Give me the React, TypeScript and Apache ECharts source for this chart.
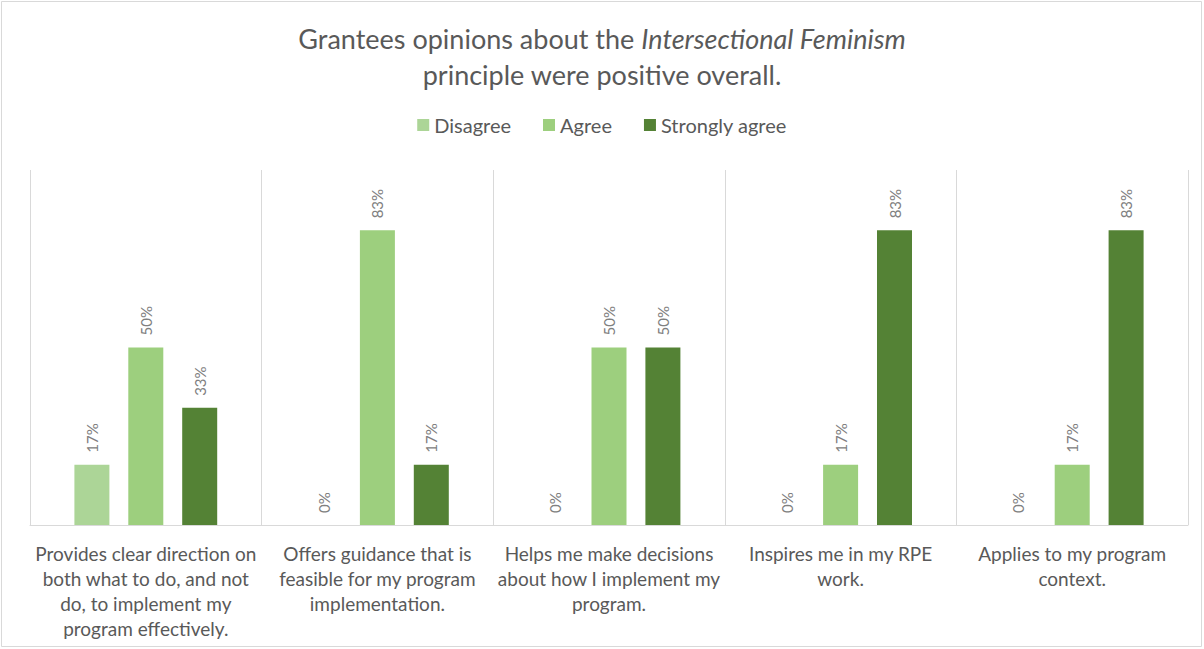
import React, { useEffect, useRef } from "react";
import * as echarts from "echarts";

const categories = [
  "Provides clear direction on\nboth what to do, and not\ndo, to implement my\nprogram effectively.",
  "Offers guidance that is\nfeasible for my program\nimplementation.",
  "Helps me make decisions\nabout how I implement my\nprogram.",
  "Inspires me in my RPE\nwork.",
  "Applies to my program\ncontext.",
];
const seriesNames = ["Disagree", "Agree", "Strongly agree"];
const disagree = [17, 0, 0, 0, 0];
const agree = [50, 83, 50, 17, 17];
const stronglyAgree = [33, 17, 50, 83, 83];
const colors = ["#acd597", "#9dcf7e", "#548235"];

const FONT = "Lato, 'Open Sans', sans-serif";

export default function App() {
  const ref = useRef<HTMLDivElement>(null);
  useEffect(() => {
    if (!ref.current) return;
    const chart = echarts.init(ref.current, null, { renderer: "svg" });
    const values = [disagree, agree, stronglyAgree];
    chart.setOption({
      animation: false,
      backgroundColor: "#ffffff",
      textStyle: { fontFamily: FONT },
      title: {
        text: "Grantees opinions about the {i|Intersectional Feminism}\nprinciple were positive overall.",
        left: "center",
        top: 15,
        textStyle: {
          fontFamily: FONT,
          fontSize: 27,
          fontWeight: "normal",
          color: "#595959",
          lineHeight: 36,
          rich: {
            i: { fontFamily: FONT, fontSize: 27, fontStyle: "italic", color: "#595959", lineHeight: 36 },
          },
        },
      },
      legend: {
        top: 110,
        left: "center",
        itemWidth: 12,
        itemHeight: 12,
        itemGap: 32,
        icon: "rect",
        textStyle: { fontFamily: FONT, fontSize: 20, color: "#595959" },
        data: seriesNames,
      },
      grid: { left: 30, right: 16, top: 170, bottom: 124 },
      xAxis: {
        type: "category",
        data: categories,
        axisTick: { show: false },
        axisLine: { lineStyle: { color: "#d9d9d9" } },
        splitLine: { show: true, interval: 0, lineStyle: { color: "#d9d9d9" } },
        axisLabel: {
          interval: 0,
          margin: 16,
          fontFamily: FONT,
          fontSize: 19,
          lineHeight: 25,
          color: "#595959",
        },
      },
      yAxis: {
        type: "value",
        min: 0,
        max: 100,
        show: false,
        splitLine: { show: false },
      },
      series: seriesNames.map((name, i) => ({
        name,
        type: "bar",
        data: values[i],
        barWidth: 35,
        barGap: "54%",
        itemStyle: { color: colors[i] },
        label: {
          show: true,
          position: "top",
          rotate: 90,
          align: "left",
          verticalAlign: "middle",
          distance: 12,
          fontFamily: FONT,
          fontSize: 15,
          color: "#808080",
          formatter: (p: any) => p.value + "%",
        },
      })),
      graphic: [
        {
          type: "rect",
          shape: { x: 1.5, y: 1.5, width: 1200, height: 645 },
          style: { fill: "none", stroke: "#d9d9d9", lineWidth: 1 },
        },
      ],
    });
    return () => chart.dispose();
  }, []);
  return (
    <div
      ref={ref}
      style={{ position: "fixed", left: 0, top: 0, width: 1204, height: 649 }}
    />
  );
}
